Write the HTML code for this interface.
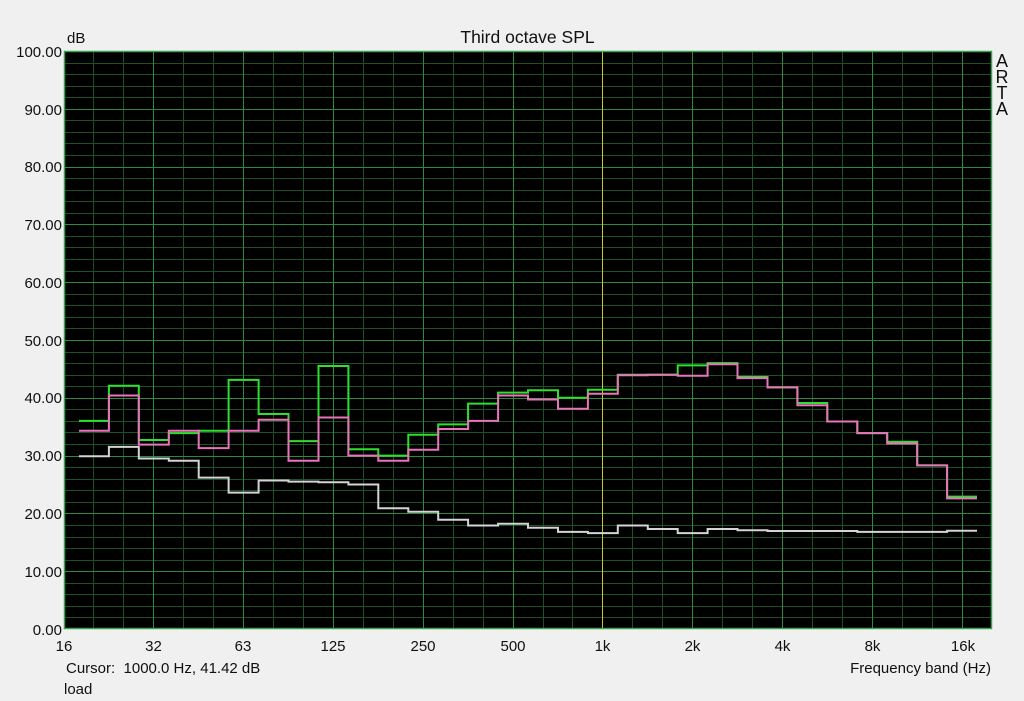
<!DOCTYPE html>
<html>
<head>
<meta charset="utf-8">
<style>
  html, body { margin:0; padding:0; background:#f0f0f0; }
  svg { display:block; }
  text { font-family: "Liberation Sans", Arial, sans-serif; fill:#101010; }
</style>
</head>
<body>
<svg width="1024" height="701" viewBox="0 0 1024 701" xmlns="http://www.w3.org/2000/svg">
  <rect x="0" y="0" width="1024" height="701" fill="#f0f0f0"/>
  <!-- plot background -->
  <rect x="64" y="51" width="928" height="578" fill="#000"/>

  <!-- minor grid -->
  <path fill="none" stroke="#1f4f27" stroke-width="1" d="
    M93.5,51V629 M123.5,51V629 M183.5,51V629 M213.5,51V629 M273.5,51V629 M303.5,51V629
    M363.5,51V629 M393.5,51V629 M453.5,51V629 M483.5,51V629 M543.5,51V629 M572.5,51V629
    M632.5,51V629 M662.5,51V629 M722.5,51V629 M752.5,51V629 M812.5,51V629 M842.5,51V629
    M902.5,51V629 M932.5,51V629
    M64,617.5H992 M64,606.5H992 M64,594.5H992 M64,583.5H992
    M64,560.5H992 M64,548.5H992 M64,537.5H992 M64,525.5H992
    M64,502.5H992 M64,490.5H992 M64,479.5H992 M64,467.5H992
    M64,444.5H992 M64,432.5H992 M64,421.5H992 M64,409.5H992
    M64,386.5H992 M64,375.5H992 M64,363.5H992 M64,352.5H992
    M64,328.5H992 M64,317.5H992 M64,305.5H992 M64,294.5H992
    M64,271.5H992 M64,259.5H992 M64,247.5H992 M64,236.5H992
    M64,213.5H992 M64,201.5H992 M64,190.5H992 M64,178.5H992
    M64,155.5H992 M64,143.5H992 M64,132.5H992 M64,120.5H992
    M64,97.5H992 M64,86.5H992 M64,74.5H992 M64,63.5H992"/>
  <!-- major grid -->
  <path fill="none" stroke="#2c8a3c" stroke-width="1" d="
    M153.5,51V629 M243.5,51V629 M333.5,51V629 M423.5,51V629 M513.5,51V629
    M692.5,51V629 M782.5,51V629 M872.5,51V629 M962.5,51V629
    M64,571.5H992 M64,513.5H992 M64,456.5H992 M64,398.5H992 M64,340.5H992
    M64,282.5H992 M64,224.5H992 M64,167.5H992 M64,109.5H992"/>
  <!-- cursor line at 1 kHz -->
  <path fill="none" stroke="#c8c828" stroke-width="1" d="M602.5,51V629"/>
  <!-- border -->
  <rect x="64.5" y="51.5" width="927" height="577" fill="none" stroke="#3ca050" stroke-width="1.5"/>

  <!-- white series -->
  <path fill="none" stroke="#d4d4d4" stroke-width="2" d="M79,456.2 H108.9 V446.9 H138.8 V458.5 H168.8 V460.8 H198.7 V477.6 H228.6 V492.6 H258.6 V480.5 H288.5 V481.6 H318.5 V482.2 H348.4 V484.5 H378.3 V508.2 H408.3 V511.7 H438.2 V519.8 H468.1 V525.5 H498.1 V523.8 H528.0 V527.8 H558.0 V531.9 H587.9 V533.1 H617.8 V525.5 H647.8 V529.0 H677.7 V533.1 H707.6 V529.0 H737.5 V530.2 H767.5 V531.0 H857.3 V531.9 H947.1 V530.7 H977.0"/>
  <!-- green series -->
  <path fill="none" stroke="#2ee02e" stroke-width="2" d="M79,420.9 H108.9 V385.7 H138.8 V440.0 H168.8 V433.1 H198.7 V430.7 H228.6 V379.9 H258.6 V414.0 H288.5 V441.1 H318.5 V366.0 H348.4 V449.2 H378.3 V455.6 H408.3 V434.8 H438.2 V424.4 H468.1 V403.6 H498.1 V392.6 H528.0 V390.3 H558.0 V397.8 H587.9 V389.7 H617.8 V374.7 H647.8 V374.7 H677.7 V365.4 H707.6 V363.1 H737.5 V377.0 H767.5 V387.4 H797.4 V403.0 H827.3 V421.5 H857.3 V433.1 H887.2 V441.7 H917.2 V465.4 H947.1 V496.6 H977.0"/>
  <!-- pink series -->
  <path fill="none" stroke="#e874bc" stroke-width="2" d="M79,430.7 H108.9 V395.5 H138.8 V444.6 H168.8 V430.7 H198.7 V448.1 H228.6 V430.7 H258.6 V419.8 H288.5 V460.8 H318.5 V417.5 H348.4 V455.6 H378.3 V460.8 H408.3 V449.8 H438.2 V429.0 H468.1 V420.9 H498.1 V395.5 H528.0 V399.5 H558.0 V408.8 H587.9 V393.8 H617.8 V375.3 H647.8 V374.7 H677.7 V375.8 H707.6 V364.3 H737.5 V378.1 H767.5 V387.4 H797.4 V405.3 H827.3 V421.5 H857.3 V433.1 H887.2 V443.5 H917.2 V465.4 H947.1 V498.4 H977.0"/>

  <!-- titles -->
  <text x="527.5" y="43" font-size="17.5" text-anchor="middle">Third octave SPL</text>
  <text x="67" y="43" font-size="15">dB</text>

  <!-- y tick labels -->
  <g font-size="15" text-anchor="end">
    <text x="62" y="57">100.00</text>
    <text x="62" y="115">90.00</text>
    <text x="62" y="172">80.00</text>
    <text x="62" y="230">70.00</text>
    <text x="62" y="288">60.00</text>
    <text x="62" y="346">50.00</text>
    <text x="62" y="403">40.00</text>
    <text x="62" y="461">30.00</text>
    <text x="62" y="519">20.00</text>
    <text x="62" y="577">10.00</text>
    <text x="62" y="635">0.00</text>
  </g>

  <!-- x tick labels -->
  <g font-size="15" text-anchor="middle">
    <text x="64" y="651">16</text>
    <text x="153.5" y="651">32</text>
    <text x="243" y="651">63</text>
    <text x="333" y="651">125</text>
    <text x="423" y="651">250</text>
    <text x="513" y="651">500</text>
    <text x="602.5" y="651">1k</text>
    <text x="692.5" y="651">2k</text>
    <text x="782.5" y="651">4k</text>
    <text x="872.5" y="651">8k</text>
    <text x="963" y="651">16k</text>
  </g>

  <text x="66" y="673" font-size="15" xml:space="preserve">Cursor:  1000.0 Hz, 41.42 dB</text>
  <text x="64" y="694" font-size="15">load</text>
  <text x="991" y="673" font-size="15" text-anchor="end">Frequency band (Hz)</text>

  <!-- ARTA vertical -->
  <g font-size="18" text-anchor="middle">
    <text x="1002" y="67">A</text>
    <text x="1002" y="83">R</text>
    <text x="1002" y="99">T</text>
    <text x="1002" y="115">A</text>
  </g>
</svg>
</body>
</html>
